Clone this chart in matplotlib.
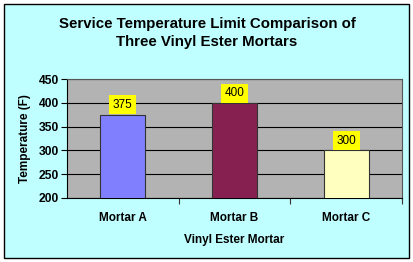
import matplotlib
matplotlib.use("Agg")
import matplotlib.pyplot as plt
import matplotlib.patches as mpatches

# Data
mortars = ['Mortar A', 'Mortar B', 'Mortar C']
temps = [375, 400, 300]
bar_colors = ['#8080FF', '#862050', '#FFFFC0']
yticks = [200, 250, 300, 350, 400, 450]

plt.rcParams['font.family'] = ['Liberation Sans', 'DejaVu Sans']

fig = plt.figure(figsize=(4.14, 2.62), dpi=100)
fig.patch.set_facecolor('white')
# outer chart area with border
fig.add_artist(mpatches.Rectangle((4 / 414, 4 / 262), 405 / 414, 254 / 262,
                                  transform=fig.transFigure, facecolor='#C0FFFF',
                                  edgecolor='black', linewidth=1.0, zorder=-1))

ax = fig.add_axes([67 / 414, 1 - 198 / 262, 335 / 414, 119 / 262])
ax.set_facecolor('#B3B3B3')

x = range(len(mortars))
bars = ax.bar(x, temps, width=0.4, color=bar_colors, edgecolor='#333333',
              linewidth=0.8, zorder=3)
ax.set_xlim(-0.5, 2.5)
ax.set_ylim(200, 450)
ax.set_yticks(yticks)
ax.yaxis.grid(True, color='black', linewidth=0.8, zorder=1)
ax.set_axisbelow(True)

for bar, val in zip(bars, temps):
    ax.annotate(str(val), (bar.get_x() + bar.get_width() / 2, val),
                xytext=(0, 2.7), textcoords='offset points',
                ha='center', va='bottom', fontsize=8.5, zorder=4,
                bbox=dict(boxstyle='square,pad=0.3', facecolor='#FFFF00', edgecolor='none'))

# category labels centered, tick marks between categories
ax.set_xticks([0.5, 1.5, 2.5], minor=False)
ax.set_xticklabels([])
ax.set_xticks(list(x), minor=True)
ax.set_xticklabels(mortars, minor=True, fontsize=8.5, fontweight='bold')
ax.tick_params(axis='x', which='minor', length=0, pad=10)
ax.tick_params(axis='x', which='major', length=4, color='#333333', direction='out')
ax.tick_params(axis='y', length=4, labelsize=8.7, pad=2)
for lab in ax.get_yticklabels():
    lab.set_fontweight('bold')

for side in ['top', 'right']:
    ax.spines[side].set_color('#555555')
    ax.spines[side].set_linewidth(0.8)
for side in ['left', 'bottom']:
    ax.spines[side].set_color('black')
    ax.spines[side].set_linewidth(0.8)

ax.set_xlabel('Vinyl Ester Mortar', fontsize=8.5, fontweight='bold', labelpad=7)
ax.set_ylabel('Temperature (F)', fontsize=8.5, fontweight='bold', labelpad=5)

fig.text(0.5, 1 - 33 / 262, 'Service Temperature Limit Comparison of\nThree Vinyl Ester Mortars',
         ha='center', va='center', fontsize=10.8, fontweight='bold', linespacing=1.3)

plt.savefig('out.png', dpi=100)
